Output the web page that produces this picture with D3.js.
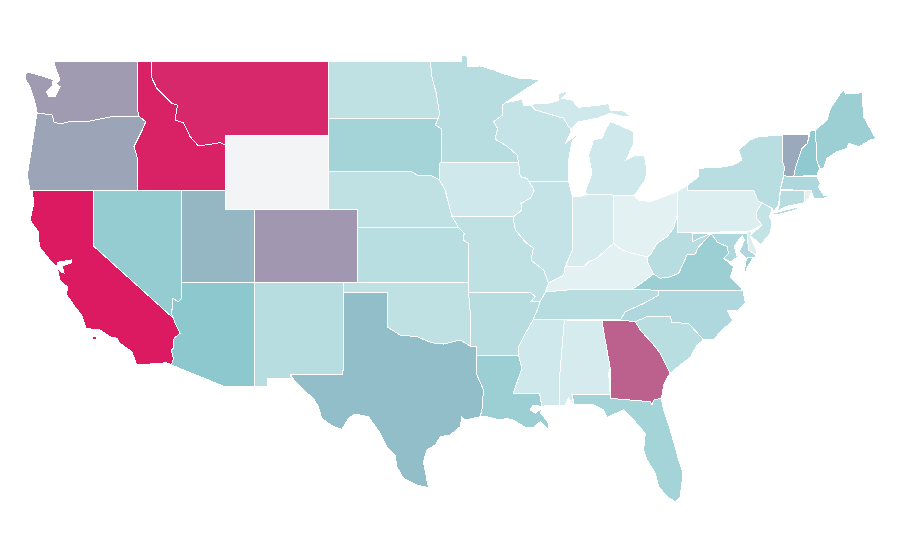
<!DOCTYPE html>
<html>
<head>
<meta charset="utf-8">
<script src="https://cdn.jsdelivr.net/npm/d3@7"></script>
<style>
  html, body { margin: 0; background: #fff; }
  svg { display: block; }
</style>
</head>
<body>
<div id="map"></div>
<script>
// values, 0-100
const stateNames = ["WA","OR","CA","NV","ID","MT","WY","UT","CO","AZ","NM","TX","ND","SD","NE","KS","OK","MN","IA","MO","AR","LA","WI","IL","MI","IN","OH","KY","TN","MS","AL","GA","FL","SC","NC","VA","WV","PA","NY","VT","NH","ME","MA","CT","RI","NJ","DE","MD"]
const stateValues = [63,60,100,46,98,96,0,55,64,50,30,53,26,39,26,29,26,30,19,26,30,43,24,24,19,16,9,9,30,19,16,80,39,29,34,43,30,13,29,59,48,43,34,30,9,24,13,34]

const colorStops = [0, 10, 50, 100]
const colorRange = ["#f3f4f6", "#e2f1f3", "#8cc8ce", "#dc1a62"]

// shared borders, lon/lat
const snake = [[-117.03,46.42],[-116.92,46.17],[-116.92,46.06],[-116.44,45.75],[-116.67,45.32],[-116.85,45.02],[-117.24,44.4],[-117.03,43.83],[-117.03,42.02]]
const columbia = [[-123.83,46.23],[-122.81,46.12],[-122.67,45.74],[-122.27,45.63],[-121.72,45.74],[-120.57,45.74],[-118.87,46.01],[-116.92,46.06]]
const bitterroot = [[-116.06,49.05],[-116.06,48.19],[-115.69,47.57],[-115,47.03],[-114.67,46.75],[-114.29,46.66],[-114.45,45.85],[-113.88,45.7],[-113.43,44.94],[-112.86,44.43],[-111.39,44.61],[-111.05,44.48]]
const colorado = [[-114.02,37],[-114.02,36.14],[-114.22,35.95],[-114.63,36.14],[-114.67,35.23],[-114.56,35.05],[-114.45,34.78],[-114.11,34.23],[-114.52,33.96],[-114.56,33.42],[-114.7,33.32],[-114.56,32.87],[-114.7,32.51]]
const redRiver = [[-100,34.56],[-99.15,34.14],[-98.02,34.05],[-97.57,33.9],[-97,33.72],[-96.21,33.65],[-95.07,33.87],[-94.4,33.54]]
const sabine = [[-94,33.02],[-93.94,31.96],[-93.49,31.15],[-93.6,30.06],[-93.72,29.69]]
const redNorth = [[-97.11,49.05],[-97,48.2],[-96.7,47.3],[-96.48,46.2],[-96.56,45.94]]
const bigSioux = [[-96.56,45.94],[-96.77,45.57],[-96.32,45.35],[-96.32,43.54],[-96.48,43.5],[-96.48,42.58]]
const niobrara = [[-104.05,43.03],[-98.36,43.03],[-97.9,42.8],[-97.11,42.85],[-96.48,42.58]]
const missouri = [[-96.48,42.58],[-96.1,42.03],[-95.87,41.31],[-95.65,40.62]]
const kcBend = [[-95.2,40],[-94.8,39.68],[-94.89,39.31],[-94.51,39.12],[-94.51,37],[-94.51,36.47]]
const mnWi = [[-92,46.79],[-92.2,46.66],[-92.2,46.12],[-92.81,45.75],[-92.54,45.4],[-92.7,44.8],[-91.9,44.43],[-91.22,43.94],[-91.11,43.54]]
const wiIa = [[-91.11,43.54],[-91,42.76],[-90.55,42.67],[-90.43,42.52]]
const ilIa = [[-90.43,42.52],[-90.05,42.03],[-90.3,41.58],[-90.95,41.31],[-90.88,40.95],[-91.45,40.58],[-91.45,40.4]]
const ilMo = [[-91.45,40.4],[-91.33,39.86],[-90.65,39.2],[-90.1,38.86],[-90.27,38.22],[-89.41,37.68],[-89.07,36.96]]
const ohioRiver = [[-89.07,36.96],[-88.72,37.13],[-88.05,37.4],[-87.94,37.86],[-87.82,37.9],[-86.69,37.86],[-86.35,38.13],[-85.78,38.32],[-85.22,38.73],[-84.65,39.13],[-84.08,38.77],[-83.4,38.59],[-82.38,38.4]]
const wabash = [[-87.94,37.86],[-87.6,38.5],[-87.44,38.77],[-87.44,41.67]]
const bootheel = [[-89.29,36.48],[-89.64,35.95],[-90.27,35.95],[-89.98,36.23],[-90.32,36.47]]
const lowerMiss = [[-89.64,35.95],[-89.75,35.68],[-90.13,34.96]]
const msArk = [[-90.13,34.96],[-90.65,34.23],[-91.11,33.5],[-91.1,33.02]]
const msLa = [[-91.1,33.02],[-90.88,32.33],[-91.49,30.93],[-89.68,30.93],[-89.52,30.24]]
const kyTnLine = [[-89.29,36.48],[-87.82,36.59],[-83.4,36.64]]
const tnNc = [[-81.58,36.57],[-81.58,36.32],[-82.6,35.86],[-83.85,35.41],[-84.2,34.96]]
const wvVa = [[-81.93,37.46],[-81.48,37.23],[-80.8,37.31],[-80.23,37.5],[-79.66,38.5],[-79.1,38.55],[-78.87,38.95],[-78.01,39.65]]
const wvOh = [[-82.38,38.4],[-82.16,38.5],[-81.7,39.13],[-81.02,39.49],[-80.58,39.95],[-80.34,40.62]]
const ncSc = [[-78.54,33.87],[-79.56,34.78],[-80.68,34.81],[-80.8,35.14],[-82.38,35.14],[-83.18,34.86]]
const gaSc = [[-83.06,34.92],[-82.84,34.41],[-81.93,33.6],[-81.48,33.14],[-81.14,32.6],[-80.8,32.06]]
const vaMd = [[-78.01,39.65],[-77.6,39.19],[-76.94,38.95],[-76.84,38.59],[-77.18,38.32]]
const paNj = [[-74.86,41.45],[-74.57,41.34],[-74.95,40.85],[-74.95,40.49],[-74.57,40.13],[-75.48,39.76]]
const vtNy = [[-73.17,45.03],[-73.2,43.67],[-73.05,43.27],[-73.1,42.8]]
const ctWest = [[-73.32,42.03],[-73.39,41.22],[-73.55,40.85]]
const vtNh = [[-71.4,45.03],[-71.47,44.58],[-71.85,44.3],[-72.3,43.22],[-72.42,42.76]]
const nhMe = [[-70.94,45.3],[-70.83,43.58],[-70.65,43.22]]

const rev = line => line.slice().reverse()

const stateShapes = {
  WA: [[[-122.68,49.05],[-117.03,49.05],...snake.slice(0,3),...rev(columbia).slice(1),[-123.85,46.39],[-124.08,47.11],[-124.31,47.66],[-124.58,48.02],[-124.65,48.39],[-124.31,48.42],[-123.29,48.2],[-122.72,48.02],[-122.83,47.66],[-123.17,47.39],[-123.05,47.11],[-122.6,47.11],[-122.27,47.66],[-122.5,47.84],[-122.27,48.06],[-122.6,48.75]]],
  OR: [[...columbia,...snake.slice(3),[-124.31,42.02],[-124.49,42.85],[-124.08,44.94]]],
  CA: [
    [[-124.17,42.02],[-120,42.02],[-120,38.99],...colorado.slice(5),[-115.01,32.63],[-117.05,32.51],[-117.39,33.23],[-118.19,33.69],[-118.41,33.96],[-118.87,34.05],[-119.55,34.41],[-120.5,34.5],[-120.8,35.23],[-121.25,35.68],[-121.81,36.32],[-121.77,36.77],[-122.27,37.1],[-122.4,37.6],[-122.42,37.8],[-122.2,37.57],[-121.99,37.52],[-122.13,37.9],[-121.52,38.06],[-121.52,38.22],[-122.4,38.11],[-122.5,37.9],[-122.55,37.92],[-122.95,38.22],[-123.67,38.95],[-123.74,39.76],[-124.31,40.4],[-124.04,41.31]],
    [[-120.05,33.88],[-119.78,33.88],[-119.78,34.08],[-120.05,34.08]]
  ],
  NV: [[[-120,42.02],[-114.02,42.02],...colorado.slice(0,6),[-120,38.99]]],
  ID: [[[-117.03,49.05],...bitterroot,[-111.05,42.02],...rev(snake)]],
  MT: [[...bitterroot,[-111.05,45],[-104.05,45],[-104.05,49.05]]],
  WY: [[[-111.05,45],[-104.05,45],[-104.05,41],[-111.05,41]]],
  UT: [[[-114.02,42.02],[-111.05,42.02],[-111.05,41],[-109.05,41],[-109.05,37],[-114.02,37]]],
  CO: [[[-109.05,41],[-102.05,41],[-102.05,37],[-109.05,37]]],
  AZ: [[...colorado,[-111.07,31.33],[-109.05,31.33],[-109.05,37]]],
  NM: [[[-109.05,37],[-103,37],[-103,36.47],[-103.04,32],[-106.63,32],[-106.53,31.78],[-108.2,31.78],[-108.2,31.33],[-109.05,31.33]]],
  TX: [[[-103,36.47],[-100,36.47],...redRiver,[-94,33.54],...sabine,[-94.73,29.51],[-94.96,29.69],[-95.07,29.15],[-95.75,28.7],[-96.43,28.6],[-96.77,28.15],[-97.34,27.88],[-97.57,27.24],[-97.34,26.25],[-97.23,25.83],[-98.02,25.97],[-98.93,26.34],[-99.38,26.97],[-99.49,27.61],[-100.06,28.06],[-100.51,28.79],[-101.31,29.69],[-102.21,29.84],[-102.67,29.6],[-103.12,29],[-103.69,29.15],[-104.48,29.6],[-104.71,30.24],[-105.05,30.69],[-105.73,31.15],[-106.29,31.6],[-106.63,32],[-103.04,32]]],
  ND: [[[-104.05,49.05],...redNorth,[-104.05,45.94]]],
  SD: [[[-104.05,45.94],...bigSioux,...rev(niobrara)]],
  NE: [[...niobrara,...missouri,[-95.2,40],[-102.05,40],[-102.05,41],[-104.05,41]]],
  KS: [[[-102.05,40],...kcBend.slice(0,5),[-102.05,37]]],
  OK: [[[-103,37],[-94.51,37],[-94.51,36.47],[-94.4,35.4],...rev(redRiver),[-100,36.47],[-103,36.47]]],
  MN: [[[-97.11,49.05],[-94.96,49.05],[-94.96,49.38],[-94.62,49.38],[-94.58,48.75],[-93.72,48.79],[-92.81,48.57],[-92.24,48.39],[-91,48.1],[-89.6,48.06],...mnWi,[-96.32,43.54],[-96.32,45.35],[-96.77,45.57],...rev(redNorth)]],
  IA: [[[-96.32,43.54],...rev(mnWi).slice(0,1),...wiIa.slice(1),...ilIa.slice(1),[-91.45,40.58],[-95.65,40.62],...rev(missouri).slice(1),[-96.48,43.5]]],
  MO: [[[-95.65,40.62],[-91.45,40.58],...ilMo,[-89.29,36.48],...bootheel.slice(1),...rev(kcBend)]],
  AR: [[[-94.51,36.47],...rev(bootheel).slice(0,4),...lowerMiss.slice(1),...msArk.slice(1),[-94,33.02],[-94,33.54],[-94.4,33.54],[-94.4,35.4]]],
  LA: [[...msLa,[-90.11,30.33],[-90.32,30.06],[-89.97,29.88],[-89.52,30.16],[-89.64,29.88],[-89.41,29.69],[-89.07,29.33],[-89.07,29],[-89.64,29.42],[-90.09,29.12],[-90.66,29.12],[-91.45,29.51],[-91.9,29.6],[-92.36,29.51],[-93.26,29.69],...rev(sabine)]],
  WI: [[[-92,46.79],[-90.88,46.97],[-90.77,46.66],[-90.2,46.6],[-89.97,46.39],[-88.05,45.94],[-87.71,45.48],[-87.48,45.29],[-87.94,44.58],[-87,45.12],[-87.48,44.66],[-87.71,43.67],[-87.75,43.12],[-87.71,42.52],[-90.43,42.52],...rev(wiIa).slice(1),...rev(mnWi).slice(1)]],
  IL: [[[-90.43,42.52],[-87.71,42.52],[-87.48,41.76],[-87.44,41.67],...rev(wabash).slice(1),...rev(ohioRiver.slice(0,4)),...rev(ilMo).slice(1),...rev(ilIa).slice(1)]],
  MI: [
    [[-86.46,41.8],[-84.65,41.76],[-83.29,41.72],[-83.06,41.94],[-82.5,42.58],[-82.38,43.12],[-82.57,43.94],[-83.18,43.94],[-83.79,43.67],[-83.29,44.58],[-83.29,45.21],[-84.54,45.66],[-84.88,45.75],[-85.22,45.3],[-85.45,44.85],[-86.02,44.76],[-86.35,43.94],[-86.12,42.94],[-86.58,41.94]],
    [[-90.2,46.6],[-90.09,46.72],[-89.18,46.75],[-88.39,46.9],[-88.39,47.26],[-87.66,47.48],[-88.16,47.03],[-87.48,46.93],[-87.03,46.54],[-85.56,46.66],[-84.99,46.75],[-84.88,46.39],[-84.08,46.39],[-83.52,46.06],[-83.98,46.02],[-84.88,46.21],[-85.78,45.94],[-87.03,45.75],[-87.6,45.3],[-87.48,45.29],[-87.71,45.48],[-88.05,45.94],[-89.97,46.39]]
  ],
  IN: [[[-87.44,41.67],[-86.92,41.67],[-86.46,41.8],[-84.65,41.76],[-84.65,39.13],[-85.22,38.73],[-85.78,38.32],[-86.35,38.13],[-86.69,37.86],[-87.82,37.9],...wabash]],
  OH: [[[-84.65,41.76],[-83.29,41.72],[-82.93,41.49],[-82.16,41.4],[-81.25,41.67],[-80.34,41.94],[-80.34,40.62],...rev(wvOh).slice(1),[-83.4,38.59],[-84.08,38.77],[-84.65,39.13]]],
  KY: [[...ohioRiver,[-82.36,38.11],[-81.93,37.46],[-82.95,36.86],...rev(kyTnLine)]],
  TN: [[...kyTnLine,...tnNc,[-90.13,34.96],...rev(lowerMiss).slice(1),[-89.64,35.95]]],
  MS: [[[-90.13,34.96],[-88,34.96],[-88.32,31.87],[-88.32,30.28],[-89.2,30.33],[-89.52,30.24],[-89.68,30.93],[-91.49,30.93],[-90.88,32.33],[-91.1,33.02],...rev(msArk).slice(1,3)]],
  AL: [[[-88,34.96],[-85.44,34.92],[-85.22,33.87],[-84.88,32.33],[-84.99,32.06],[-84.88,30.88],[-87.48,30.88],[-87.37,30.33],[-87.71,30.69],[-87.94,30.33],[-88.32,30.28],[-88.32,31.87]]],
  GA: [[[-85.44,34.92],...gaSc,[-81.02,31.8],[-81.25,31.4],[-81.41,30.69],[-81.93,30.6],[-82.04,30.33],[-82.16,30.51],[-84.88,30.69],[-84.88,32.33],[-85.22,33.87]]],
  FL: [[[-87.48,30.88],[-84.88,30.88],[-84.88,30.69],[-82.16,30.51],[-82.04,30.33],[-81.93,30.6],[-81.41,30.69],[-81.25,30.06],[-80.8,28.97],[-80.23,27.34],[-79.94,26.61],[-80.12,25.34],[-80.46,25.07],[-81.02,25.34],[-81.59,25.88],[-81.82,26.61],[-82.38,27.34],[-82.61,27.88],[-82.5,28.79],[-83.29,29.51],[-83.97,30.06],[-85.1,29.66],[-85.33,30.06],[-86.01,30.33],[-86.92,30.33],[-87.32,30.33]]],
  SC: [[[-83.18,34.86],...rev(ncSc).slice(1),[-78.98,33.6],[-79.44,32.93],[-80.12,32.51],[-80.8,32.06],...rev(gaSc).slice(1,5),[-83.18,34.86]]],
  NC: [[[-81.58,36.57],[-75.86,36.55],[-75.7,35.88],[-76.16,35.5],[-76.94,35.5],[-76.72,35.14],[-76.5,34.96],[-77.4,34.32],[-77.85,33.87],...ncSc,...rev(tnNc).slice(0,4)]],
  VA: [
    [[-83.4,36.64],[-81.58,36.57],[-75.86,36.55],[-76.16,36.86],[-76.72,37.31],[-76.5,37.86],...rev(vaMd).slice(0,4),...rev(wvVa),[-82.95,36.86]],
    [[-75.14,38.4],[-75.54,37.86],[-75.81,37.31],[-75.73,37.79],[-75.63,38.33]]
  ],
  WV: [[[-80.34,40.62],[-80.34,39.73],[-79.32,39.71],[-79.32,39.22],[-78.2,39.62],...rev(wvVa),[-82.36,38.11],...wvOh.slice(0,5)]],
  PA: [[[-80.34,41.94],[-79.62,42.31],[-79.62,42.03],[-75.14,42.03],...paNj,[-80.34,39.73]]],
  NY: [
    [[-79.62,42.31],[-78.87,42.76],[-78.87,43.22],[-77.4,43.27],[-76.5,43.4],[-75.93,43.67],[-76.16,44.21],[-75.36,44.76],[-74.8,44.94],...vtNy,[-73.32,42.14],[-73.44,41.22],[-73.78,40.85],[-73.89,41.04],[-74.86,41.45],[-75.14,42.03],[-79.62,42.03]],
    [[-73.78,40.77],[-72.98,40.95],[-71.74,41.16],[-72.42,40.91],[-73.32,40.73],[-73.78,40.67]]
  ],
  VT: [[...vtNy.slice(0,1),...vtNh,[-73.1,42.8],[-73.05,43.27],[-73.2,43.67]]],
  NH: [[[-71.28,45.3],...nhMe,[-70.83,42.85],[-72.42,42.76],...rev(vtNh).slice(1,4)]],
  ME: [[...nhMe.slice(0,1),[-70.15,45.85],[-69.92,46.48],[-69.24,47.3],[-69.02,47.48],[-68.9,47.26],[-67.77,47.33],[-67.66,46.02],[-66.98,45.03],[-66.79,44.85],[-67.2,44.76],[-67.43,44.66],[-67.99,44.39],[-68.68,44.58],[-68.79,44.3],[-69.47,44.12],[-70.15,43.76],[-70.38,43.22],[-70.65,43.22],[-70.83,43.58]]],
  MA: [[[-73.1,42.8],[-70.83,42.76],[-70.6,42.4],[-70.72,42.18],[-70.38,41.76],[-69.92,41.72],[-70.38,41.58],[-71.06,41.58],[-71.21,42],[-71.69,42],[-73.32,42.07]]],
  CT: [[...ctWest.slice(0,1),[-71.69,42],[-71.69,41.34],[-72.98,41.13],...rev(ctWest).slice(0,2)]],
  RI: [[[-71.69,42],[-71.21,42],[-71.28,41.72],[-71.62,41.34],[-71.69,41.34]]],
  NJ: [[[-74.86,41.45],[-73.89,41.04],[-74.05,40.58],[-73.89,40.31],[-74,39.68],[-74.68,39.04],[-75.36,39.58],[-74.57,40.13],[-74.95,40.49],[-74.95,40.85],[-74.57,41.34]]],
  DE: [[[-75.59,39.68],[-75.43,39.82],[-75.25,39.76],[-75.36,39.49],[-74.95,38.77],[-74.95,38.46],[-75.48,38.77]]],
  MD: [[[-79.32,39.68],[-75.59,39.68],[-75.48,38.77],[-74.95,38.46],[-75.02,38.35],[-75.63,38.33],[-76.11,38.66],[-75.77,39.31],[-75.9,39.53],[-76.16,39.31],[-76.45,38.95],[-76.25,38.39],[-76.72,38.11],[-77.18,38.32],[-76.84,38.59],[-76.94,38.95],[-77.6,39.19],[-78.01,39.65],[-78.2,39.62],[-79.32,39.22]]]
}

const width = 900
const height = 560

const svg = d3.select("#map").append("svg")
    .attr("width", width)
    .attr("height", height)

// the map is a plain stretched lon/lat grid
const x = d3.scaleLinear().domain([-125, -67]).range([19.8, 873.4])
const y = d3.scaleLinear().domain([50, 25]).range([43.7, 502.9])

const color = d3.scaleLinear().domain(colorStops).range(colorRange)

const path = d3.geoPath(d3.geoTransform({
    point: function(lon, lat) { this.stream.point(x(lon), y(lat)) }
}))

const states = stateNames.map((name, i) => ({
    type: "Feature",
    id: name,
    value: stateValues[i],
    geometry: {
        type: "MultiPolygon",
        coordinates: stateShapes[name].map(ring => [ring.concat([ring[0]])])
    }
}))

svg.append("g")
    .selectAll("path")
    .data(states)
    .join("path")
        .attr("class", d => "state " + d.id)
        .attr("d", path)
        .attr("fill", d => color(d.value))
        .attr("stroke", "#fff")
        .attr("stroke-width", 1)
        .attr("shape-rendering", "crispEdges")
</script>
</body>
</html>
